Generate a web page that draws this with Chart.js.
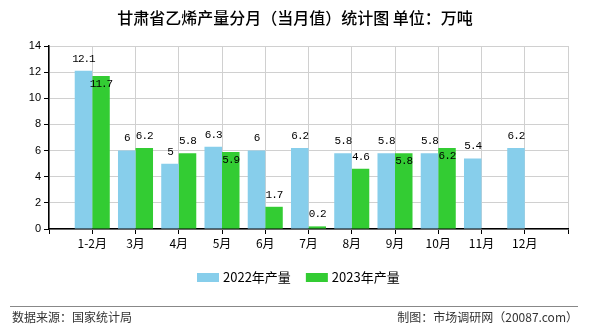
<!DOCTYPE html>
<html>
<head>
<meta charset="utf-8">
<script src="https://cdn.jsdelivr.net/npm/chart.js@4/dist/chart.umd.min.js"></script>
<style>
  html, body { margin: 0; padding: 0; background: #fff; }
  #wrap { width: 590px; height: 330px; position: relative; }
</style>
</head>
<body>
<div id="wrap"><canvas id="ethyleneChart" width="590" height="330"></canvas></div>
<script>
// monthly output, 10k tonnes; blank slots at both ends pad the axis
const months = ['', '1-2月', '3月', '4月', '5月', '6月', '7月', '8月', '9月', '10月', '11月', '12月', ''];
const output2022 = [null, 12.1, 6, 5, 6.3, 6, 6.2, 5.8, 5.8, 5.8, 5.4, 6.2, null];
const output2023 = [null, 11.7, 6.2, 5.8, 5.9, 1.7, 0.2, 4.6, 5.8, 6.2, null, null, null];
const yTicks = [0, 2, 4, 6, 8, 10, 12, 14];

// where the 2023 value label sits: true = just inside the bar top
const label2023Inside = [false, true, false, false, true, false, false, false, true, true, false, false, false];

const CJK = '"Noto Sans CJK SC", "Noto Sans", sans-serif';

const decorations = {
    id: 'decorations',
    afterDatasetsDraw(chart) {
        const ctx = chart.ctx;
        ctx.save();
        ctx.font = '11px "Liberation Mono", monospace';
        ctx.letterSpacing = '-1px';
        ctx.fillStyle = '#000';
        ctx.textAlign = 'center';
        ctx.textBaseline = 'middle';
        chart.data.datasets.forEach((ds, di) => {
            const meta = chart.getDatasetMeta(di);
            meta.data.forEach((bar, i) => {
                const v = ds.data[i];
                if (v === null || v === undefined) return;
                let y = bar.y - 12;
                if (di === 1 && label2023Inside[i]) y = bar.y + 8;
                ctx.fillText(String(v), bar.x, y);
            });
        });
        ctx.restore();
    },
    afterDraw(chart) {
        const ctx = chart.ctx;
        ctx.save();
        // title
        ctx.fillStyle = '#000';
        ctx.font = '500 16px ' + CJK;
        ctx.textAlign = 'center';
        ctx.textBaseline = 'middle';
        ctx.fillText('甘肃省乙烯产量分月（当月值）统计图 单位：万吨', 295, 18);

        // legend
        ctx.font = '13px ' + CJK;
        ctx.textAlign = 'left';
        let x = 197;
        chart.data.datasets.forEach(ds => {
            ctx.fillStyle = ds.backgroundColor;
            ctx.fillRect(x, 273, 22, 9);
            ctx.fillStyle = '#000';
            ctx.fillText(ds.label, x + 26, 277);
            x += 26 + ctx.measureText(ds.label).width + 15;
        });

        // footer
        ctx.strokeStyle = '#888';
        ctx.lineWidth = 1;
        ctx.beginPath();
        ctx.moveTo(10, 306.5);
        ctx.lineTo(578, 306.5);
        ctx.stroke();
        ctx.fillStyle = '#333';
        ctx.font = '12px ' + CJK;
        ctx.textAlign = 'left';
        ctx.fillText('数据来源：国家统计局', 12, 317);
        ctx.textAlign = 'right';
        ctx.fillText('制图：市场调研网（20087.com）', 578, 317);
        ctx.restore();
    }
};

new Chart(document.getElementById('ethyleneChart').getContext('2d'), {
    type: 'bar',
    data: {
        labels: months,
        datasets: [
            { label: '2022年产量', data: output2022, backgroundColor: '#87CEEB' },
            { label: '2023年产量', data: output2023, backgroundColor: '#33CC33' }
        ]
    },
    options: {
        responsive: false,
        animation: false,
        devicePixelRatio: 1,
        layout: { padding: { left: 0, right: 22, top: 46, bottom: 0 } },
        datasets: { bar: { categoryPercentage: 0.81, barPercentage: 1 } },
        plugins: {
            legend: { display: false },
            title: { display: false },
            tooltip: { enabled: false }
        },
        scales: {
            x: {
                offset: false,
                grid: { offset: false, color: '#d0d0d0', tickColor: '#000', tickLength: 5 },
                border: { color: '#000', width: 1.5 },
                ticks: { color: '#000', font: { family: CJK, size: 12 }, padding: 2, maxRotation: 0, autoSkip: false },
                afterFit: s => { s.height = 101; }
            },
            y: {
                min: 0,
                max: 14,
                afterBuildTicks: s => { s.ticks = yTicks.map(v => ({ value: v })); },
                grid: { color: '#d0d0d0', tickColor: '#000', tickLength: 5 },
                border: { color: '#000', width: 1.5 },
                ticks: { color: '#000', font: { family: '"Liberation Sans", Arial, sans-serif', size: 11 }, padding: 3 },
                afterFit: s => { s.width = 49; }
            }
        }
    },
    plugins: [decorations]
});
</script>
</body>
</html>
